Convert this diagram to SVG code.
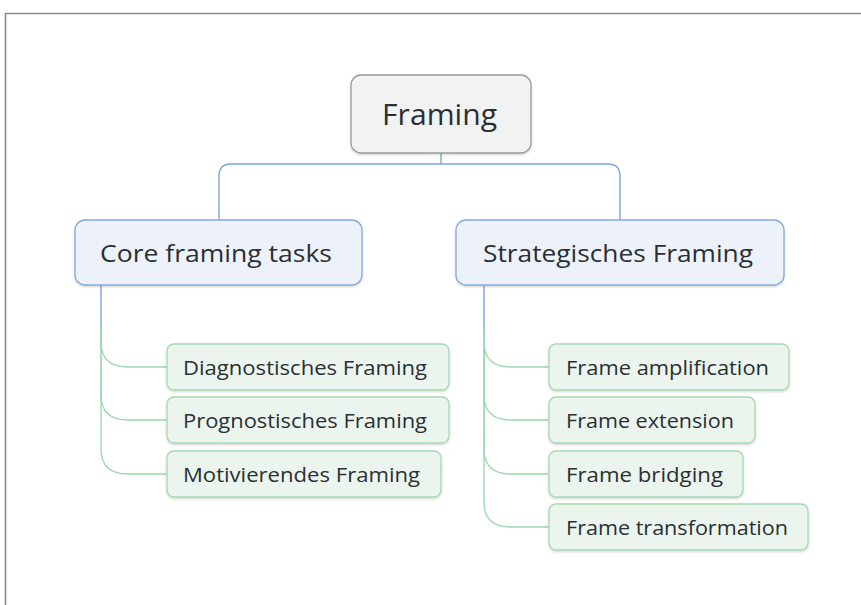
<svg xmlns="http://www.w3.org/2000/svg" width="861" height="605" viewBox="0 0 861 605">
  <style>
    .lbl { font-family: "Open Sans", "Noto Sans", "DejaVu Sans", sans-serif; fill: #2a2f33; }
    .root rect { fill: #f2f2f2; stroke: #9a9a9a; stroke-width: 1.3; }
    .main rect { fill: #edf2fa; stroke: #86aad8; stroke-width: 1.3; }
    .sub rect { fill: #ebf5ee; stroke: #a6d9b4; stroke-width: 1.3; }
    .blue { fill: none; stroke: #7fa5d6; stroke-width: 1.4; }
    .green { fill: none; stroke: #9fd6ae; stroke-width: 1.3; }
  </style>
  <defs>
    <filter id="shadow" x="-5%" y="-5%" width="110%" height="120%">
      <feDropShadow dx="0" dy="1.2" stdDeviation="0.8" flood-color="#000" flood-opacity="0.18"/>
    </filter>
  </defs>

  <rect width="861" height="605" fill="#ffffff"/>
  <!-- outer frame -->
  <path d="M5.5,605 L5.5,13.5 L861,13.5" fill="none" stroke="#8a8a8a" stroke-width="1.6"/>

  <g id="connectors">
    <path class="blue" d="M441,153 L441,164"/>
    <path class="blue" d="M219,220 L219,176 Q219,164 231,164 L608,164 Q620,164 620,176 L620,220"/>
    <path class="blue" d="M101,285 L101,328"/>
    <path class="blue" d="M484,285 L484,328"/>
    <!-- left branch -->
    <path class="green" d="M101,328 L101,342 C101,360 112,367 128,367 L167,367"/>
    <path class="green" d="M101,328 L101,395 C101,413 112,420 128,420 L167,420"/>
    <path class="green" d="M101,328 L101,449 C101,467 112,474 128,474 L167,474"/>
    <!-- right branch -->
    <path class="green" d="M484,328 L484,342 C484,360 495,367 511,367 L549,367"/>
    <path class="green" d="M484,328 L484,395 C484,413 495,420 511,420 L549,420"/>
    <path class="green" d="M484,328 L484,449 C484,467 495,474 511,474 L549,474"/>
    <path class="green" d="M484,328 L484,502 C484,520 495,527 511,527 L549,527"/>
  </g>

  <g id="framing" class="root">
    <rect x="351" y="75" width="180" height="78" rx="10" filter="url(#shadow)"/>
    <text class="lbl" x="382" y="125" font-size="29" textLength="115" lengthAdjust="spacingAndGlyphs">Framing</text>
  </g>

  <g id="core-framing-tasks" class="main">
    <rect x="75" y="220" width="287" height="65" rx="10" filter="url(#shadow)"/>
    <text class="lbl" x="100" y="262" font-size="23" textLength="232" lengthAdjust="spacingAndGlyphs">Core framing tasks</text>
  </g>

  <g id="strategisches-framing" class="main">
    <rect x="456" y="220" width="328" height="65" rx="10" filter="url(#shadow)"/>
    <text class="lbl" x="483" y="262" font-size="23" textLength="270" lengthAdjust="spacingAndGlyphs">Strategisches Framing</text>
  </g>

  <g id="diagnostisches-framing" class="sub">
    <rect x="167" y="344" width="282" height="46" rx="7" filter="url(#shadow)"/>
    <text class="lbl" x="183" y="375" font-size="20" textLength="244" lengthAdjust="spacingAndGlyphs">Diagnostisches Framing</text>
  </g>

  <g id="prognostisches-framing" class="sub">
    <rect x="167" y="397" width="282" height="46" rx="7" filter="url(#shadow)"/>
    <text class="lbl" x="183" y="428" font-size="20" textLength="244" lengthAdjust="spacingAndGlyphs">Prognostisches Framing</text>
  </g>

  <g id="motivierendes-framing" class="sub">
    <rect x="167" y="451" width="274" height="46" rx="7" filter="url(#shadow)"/>
    <text class="lbl" x="183" y="482" font-size="20" textLength="237" lengthAdjust="spacingAndGlyphs">Motivierendes Framing</text>
  </g>

  <g id="frame-amplification" class="sub">
    <rect x="549" y="344" width="240" height="46" rx="7" filter="url(#shadow)"/>
    <text class="lbl" x="566" y="375" font-size="20" textLength="203" lengthAdjust="spacingAndGlyphs">Frame amplification</text>
  </g>

  <g id="frame-extension" class="sub">
    <rect x="549" y="397" width="206" height="46" rx="7" filter="url(#shadow)"/>
    <text class="lbl" x="566" y="428" font-size="20" textLength="168" lengthAdjust="spacingAndGlyphs">Frame extension</text>
  </g>

  <g id="frame-bridging" class="sub">
    <rect x="549" y="451" width="194" height="46" rx="7" filter="url(#shadow)"/>
    <text class="lbl" x="566" y="482" font-size="20" textLength="157" lengthAdjust="spacingAndGlyphs">Frame bridging</text>
  </g>

  <g id="frame-transformation" class="sub">
    <rect x="549" y="504" width="259" height="46" rx="7" filter="url(#shadow)"/>
    <text class="lbl" x="566" y="535" font-size="20" textLength="222" lengthAdjust="spacingAndGlyphs">Frame transformation</text>
  </g>
</svg>
